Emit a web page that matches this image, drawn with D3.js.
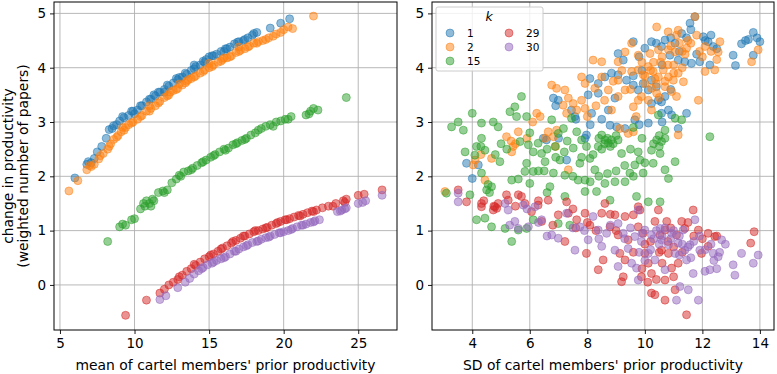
<!DOCTYPE html>
<html>
<head>
<meta charset="utf-8">
<script src="https://cdn.jsdelivr.net/npm/d3@7/dist/d3.min.js"></script>
<style>
  body { margin: 0; background: #fff; }
  text { font-family: "DejaVu Sans", sans-serif; }
</style>
</head>
<body>
<div id="viz"></div>
<script>
// k values and colors
let kValues = ["1", "2", "15", "29", "30"];
let kColors = ["#1f77b4", "#ff7f0e", "#2ca02c", "#d62728", "#9467bd"];
let yTicks = [0, 1, 2, 3, 4, 5];

// left panel: mean of members' prior productivity vs change
let mean1 = [[6.0,1.97],[6.8,2.22],[6.9,2.27],[7.1,2.25],[7.3,2.33],[7.5,2.45],[7.8,2.55],[8.1,2.7],[8.3,2.86],[8.5,2.88],[8.8,2.95],[9.0,3.02],[9.3,3.08],[9.6,3.12],[9.9,3.2],[10.2,3.22],[10.5,3.3],[10.8,3.37],[11.1,3.42],[11.4,3.48],[11.7,3.55],[12.0,3.6],[12.3,3.66],[12.6,3.72],[12.9,3.78],[13.2,3.83],[13.5,3.88],[13.8,3.95],[14.1,4.02],[14.4,4.05],[14.7,4.1],[15.0,4.2],[15.2,4.22],[15.5,4.25],[15.8,4.3],[16.1,4.35],[16.4,4.38],[16.7,4.44],[17.0,4.48],[17.3,4.5],[17.6,4.55],[17.9,4.6],[18.2,4.65],[19.1,4.73],[19.8,4.82],[20.4,4.9],[10.0,3.15],[12.0,3.55],[14.0,3.98],[16.0,4.3],[8.6,2.93],[9.2,3.1],[9.8,3.2],[10.4,3.3],[11.0,3.42],[11.6,3.55],[12.2,3.68],[12.8,3.8],[13.4,3.9],[14.0,4.05],[14.6,4.12],[15.3,4.22],[16.2,4.35],[16.9,4.47],[17.4,4.52],[18.0,4.63],[11.3,3.5],[13.0,3.82],[14.8,4.15]];
let mean2 = [[5.6,1.73],[6.2,1.92],[6.8,2.12],[7.1,2.18],[7.3,2.22],[7.6,2.32],[7.9,2.42],[8.2,2.5],[8.4,2.6],[8.6,2.68],[8.9,2.75],[9.1,2.82],[9.4,2.9],[9.6,2.95],[9.9,3.0],[10.2,3.05],[10.5,3.12],[10.8,3.2],[11.1,3.25],[11.4,3.3],[11.7,3.38],[12.0,3.45],[12.3,3.5],[12.6,3.58],[12.9,3.62],[13.2,3.68],[13.5,3.75],[13.8,3.8],[14.1,3.85],[14.4,3.9],[14.7,3.96],[15.0,4.0],[15.3,4.05],[15.6,4.1],[15.9,4.15],[16.2,4.18],[16.5,4.22],[16.8,4.28],[17.1,4.32],[17.4,4.35],[17.7,4.4],[18.0,4.45],[18.3,4.48],[18.6,4.5],[19.0,4.55],[19.5,4.62],[20.0,4.7],[20.3,4.75],[22.0,4.95],[9.2,2.9],[11.0,3.3],[13.0,3.7],[15.0,4.08],[17.0,4.38],[7.0,2.2],[7.7,2.38],[8.3,2.55],[8.8,2.72],[9.3,2.85],[9.8,2.98],[10.4,3.1],[11.0,3.2],[11.6,3.35],[12.2,3.48],[12.8,3.6],[13.4,3.72],[14.0,3.83],[14.6,3.93],[15.2,4.02],[15.8,4.12],[16.4,4.2],[17.0,4.3],[17.6,4.38],[18.2,4.45],[18.8,4.52],[19.3,4.58],[19.8,4.65],[20.6,4.72],[12.4,3.55],[13.6,3.78],[16.0,4.18]];
let mean15 = [[8.2,0.8],[9.0,1.07],[9.2,1.12],[9.4,1.1],[9.8,1.2],[10.0,1.22],[10.4,1.4],[10.6,1.5],[10.8,1.55],[11.0,1.5],[11.2,1.58],[11.6,1.7],[11.9,1.73],[12.2,1.75],[12.5,1.88],[12.8,1.95],[13.0,2.02],[13.3,2.08],[13.6,2.1],[13.9,2.15],[14.2,2.2],[14.5,2.25],[14.8,2.3],[15.1,2.35],[15.4,2.4],[15.7,2.45],[16.0,2.5],[16.3,2.52],[16.6,2.58],[16.9,2.62],[17.2,2.66],[17.5,2.7],[17.8,2.76],[18.1,2.8],[18.5,2.88],[18.8,2.92],[19.1,2.95],[19.5,3.0],[19.8,3.02],[20.1,3.05],[20.5,3.1],[21.5,3.13],[21.8,3.2],[22.0,3.25],[22.3,3.22],[24.2,3.45],[11.1,1.45],[11.3,1.55],[10.7,1.45],[12.0,1.7],[13.1,2.0],[13.8,2.12],[14.6,2.27],[15.3,2.38],[16.1,2.48],[16.8,2.6],[17.4,2.68],[18.3,2.85],[19.3,2.92],[20.3,3.05],[21.7,3.15]];
let mean29 = [[9.4,-0.56],[10.8,-0.28],[11.7,-0.15],[12.0,-0.08],[12.3,0.0],[12.6,0.05],[12.9,0.1],[13.2,0.18],[13.5,0.25],[13.8,0.3],[14.1,0.36],[14.4,0.42],[14.7,0.48],[15.0,0.52],[15.3,0.57],[15.6,0.62],[15.9,0.68],[16.2,0.72],[16.5,0.77],[16.8,0.82],[17.1,0.86],[17.4,0.9],[17.7,0.94],[18.0,0.98],[18.3,1.0],[18.6,1.03],[18.9,1.06],[19.2,1.1],[19.5,1.13],[19.8,1.17],[20.1,1.2],[20.4,1.22],[20.7,1.25],[21.0,1.28],[21.3,1.3],[21.6,1.33],[21.9,1.36],[22.2,1.38],[22.6,1.42],[23.0,1.45],[23.5,1.5],[24.0,1.55],[24.2,1.58],[25.0,1.65],[25.4,1.67],[26.6,1.75],[13.0,0.15],[14.0,0.38],[15.1,0.55],[15.8,0.66],[16.6,0.8],[17.3,0.9],[18.1,1.0],[18.8,1.05],[19.6,1.15],[20.2,1.2],[21.1,1.27],[22.0,1.35],[23.3,1.45],[24.1,1.52]];
let mean30 = [[11.7,-0.27],[12.1,-0.2],[12.9,-0.05],[13.4,0.05],[13.7,0.12],[14.0,0.2],[14.3,0.26],[14.6,0.32],[14.9,0.37],[15.2,0.4],[15.5,0.45],[15.8,0.48],[16.1,0.52],[16.4,0.57],[16.7,0.62],[17.0,0.66],[17.3,0.7],[17.6,0.74],[17.9,0.78],[18.2,0.8],[18.5,0.84],[18.8,0.87],[19.1,0.9],[19.4,0.93],[19.7,0.96],[20.0,0.98],[20.3,1.0],[20.6,1.04],[20.9,1.07],[21.2,1.1],[21.5,1.12],[21.8,1.15],[22.1,1.18],[22.4,1.2],[23.6,1.35],[23.9,1.38],[24.2,1.42],[25.0,1.5],[25.5,1.55],[26.6,1.65],[14.5,0.3],[15.3,0.42],[16.0,0.5],[16.8,0.62],[17.5,0.72],[18.3,0.81],[19.0,0.88],[19.8,0.96],[20.5,1.02],[21.3,1.1],[22.0,1.16],[23.8,1.36],[24.1,1.4],[25.3,1.52]];

// right panel: SD of members' prior productivity vs change
let sd1 = [[13.77,4.65],[14.0,4.48],[13.36,4.44],[13.07,4.23],[13.15,4.04],[13.77,4.23],[13.6,4.52],[11.57,4.82],[11.74,4.94],[11.28,4.63],[12.03,4.57],[12.2,4.48],[11.62,4.08],[11.39,4.11],[11.91,4.11],[12.26,4.05],[12.38,4.39],[11.05,4.45],[10.87,4.23],[11.16,4.14],[10.23,4.48],[10.0,4.36],[10.58,4.39],[10.7,4.51],[9.07,4.26],[9.25,4.14],[9.6,4.48],[8.84,3.9],[8.61,3.83],[9.07,3.87],[9.36,3.77],[9.6,3.68],[9.77,3.59],[9.94,3.71],[10.23,3.77],[10.12,3.59],[10.47,3.4],[10.58,3.37],[10.7,3.47],[10.82,3.22],[10.93,3.13],[11.45,3.16],[11.16,2.88],[10.58,3.16],[10.23,3.34],[9.65,3.04],[10.12,2.98],[9.31,2.88],[9.02,2.91],[8.79,2.94],[8.73,3.22],[8.96,3.44],[8.38,3.53],[8.03,3.5],[8.38,3.71],[8.09,3.8],[7.45,3.22],[6.99,3.4],[6.82,3.44],[7.57,3.1],[8.15,3.16],[7.97,2.76],[7.92,2.7],[6.58,2.67],[6.47,2.7],[7.28,2.3],[3.8,2.24],[4.21,2.21],[4.0,1.96],[10.4,4.45],[10.9,4.55],[11.2,4.3],[11.45,4.55],[11.8,4.25],[12.1,4.5],[12.5,4.35],[12.3,4.6],[10.6,4.05],[9.9,3.95],[9.6,3.85],[10.4,3.65],[10.9,3.6],[10.6,3.0],[9.8,2.95],[8.5,3.05],[8.1,2.95],[7.0,2.7],[7.6,3.05],[6.9,3.3],[11.6,4.7],[9.8,4.2],[13.5,4.5],[13.9,4.55]];
let sd2 = [[11.74,4.94],[10.41,4.75],[10.81,4.66],[11.16,4.69],[11.8,4.6],[12.61,4.48],[12.55,4.29],[12.09,4.39],[11.45,4.36],[11.05,4.29],[10.82,4.33],[10.47,4.33],[10.18,4.26],[9.77,4.23],[9.54,4.45],[9.31,4.29],[9.07,4.11],[8.5,4.11],[8.2,4.14],[13.71,4.11],[13.94,4.33],[12.43,3.96],[12.09,3.93],[9.77,3.96],[9.94,3.87],[10.12,4.02],[10.29,3.93],[10.47,3.83],[10.64,3.96],[10.82,3.83],[10.99,3.77],[11.16,3.9],[11.34,3.74],[10.0,3.71],[10.23,3.62],[10.41,3.53],[10.7,3.65],[10.93,3.56],[11.1,3.47],[9.88,3.47],[10.12,3.4],[10.23,3.22],[9.77,3.4],[9.6,3.28],[11.86,3.4],[9.31,3.59],[9.07,3.47],[8.84,3.22],[8.73,3.59],[8.26,3.62],[7.92,3.71],[7.8,3.83],[8.5,3.83],[9.07,3.77],[9.54,3.93],[6.76,3.68],[6.93,3.62],[7.22,3.59],[7.34,3.44],[7.51,3.34],[7.16,3.31],[7.63,3.22],[7.28,3.16],[7.92,3.25],[7.8,3.4],[6.24,3.16],[6.36,3.1],[6.64,2.82],[6.93,2.85],[6.82,2.73],[6.53,2.7],[5.6,2.82],[5.19,2.73],[5.37,2.45],[5.42,2.55],[7.34,2.12],[4.67,2.33],[4.03,2.21],[4.44,1.93],[3.05,1.72],[9.42,2.79],[9.13,2.88],[11.16,2.76],[9.6,2.82],[10.55,4.1],[11.3,4.3],[10.35,3.8],[11.0,4.05],[10.3,4.1],[10.6,4.2],[10.9,4.4],[11.2,4.45],[11.5,4.5],[10.4,3.7],[10.7,3.75],[11.0,3.9],[11.3,4.0],[10.0,3.85],[9.9,4.1],[10.2,3.95],[10.8,4.05],[11.4,4.25],[11.1,4.6],[11.6,4.45],[12.3,4.3],[12.0,4.2],[10.5,3.45],[9.5,3.6],[9.2,3.95],[8.9,3.75],[8.6,3.4],[8.0,3.1],[6.1,3.0],[5.9,2.7],[4.3,2.4],[4.1,2.3],[5.5,2.6],[6.9,2.55],[5.35,2.65],[9.7,3.1],[8.3,3.3],[11.9,4.3],[12.5,4.15]];
let sd15 = [[3.1,1.69],[3.28,2.91],[3.51,3.0],[3.69,2.85],[4.0,3.16],[3.92,1.66],[4.15,2.55],[4.32,2.7],[4.32,2.06],[4.09,2.39],[4.44,2.48],[4.5,1.75],[4.67,1.81],[4.67,1.07],[4.15,1.2],[4.44,1.23],[4.32,2.98],[4.9,2.91],[4.96,2.27],[4.73,3.0],[5.14,1.04],[5.37,0.8],[5.37,1.93],[5.31,3.19],[5.48,3.28],[5.71,3.47],[5.54,3.1],[5.66,2.64],[5.95,2.58],[5.89,2.24],[5.89,3.1],[6.12,2.45],[6.12,2.09],[5.83,2.09],[6.0,1.87],[6.41,2.42],[6.29,2.61],[6.53,2.27],[6.7,1.81],[6.82,2.06],[6.76,3.04],[6.99,2.79],[6.88,2.55],[7.05,2.3],[7.17,2.88],[7.22,2.02],[7.45,3.07],[7.51,2.52],[7.63,2.82],[7.68,1.93],[7.74,2.24],[7.8,2.67],[7.92,1.72],[7.92,1.93],[7.97,2.55],[8.09,2.33],[8.26,2.12],[8.32,1.72],[8.38,2.55],[8.5,2.76],[8.61,2.67],[8.73,2.61],[8.84,2.67],[8.61,1.87],[8.79,1.56],[8.96,1.9],[9.07,2.67],[9.19,2.42],[9.31,1.9],[9.48,2.06],[9.65,2.21],[9.71,1.63],[9.77,2.45],[9.83,2.3],[9.94,2.06],[10.12,1.53],[10.23,2.48],[10.29,2.24],[10.41,2.67],[10.53,1.53],[10.53,2.42],[10.58,2.64],[10.7,2.85],[10.7,2.12],[10.82,1.96],[11.05,2.27],[11.28,3.04],[10.47,3.13],[12.26,2.73],[11.05,3.07],[7.22,1.63],[6.99,1.13],[7.39,1.1],[6.12,1.2],[5.89,1.04],[5.6,1.01],[6.5,2.1],[7.3,2.65],[8.2,2.4],[8.6,2.6],[8.4,2.7],[8.7,2.7],[8.9,2.6],[8.5,2.5],[9.0,2.75],[8.8,2.55],[10.3,2.6],[10.5,2.55],[10.7,2.7],[10.5,2.75],[9.6,2.9],[9.9,2.7],[9.5,2.5],[9.3,2.2],[8.1,1.9],[8.4,2.0],[8.7,2.05],[9.6,2.0],[10.0,2.25],[6.0,2.8],[6.6,2.5],[6.9,2.35],[5.2,2.5],[4.8,2.4],[4.3,2.55],[5.0,2.6],[6.3,2.1],[7.5,2.0],[7.8,2.35],[9.0,2.1],[7.2,2.45],[4.6,1.7],[4.55,1.85],[3.75,2.45],[5.6,1.95],[6.6,1.7]];
let sd29 = [[3.51,1.75],[3.8,1.53],[4.32,1.5],[4.32,1.44],[4.79,1.44],[4.85,1.41],[4.73,1.38],[5.19,1.66],[5.25,1.56],[5.6,1.66],[5.71,1.63],[5.83,1.5],[6.06,1.35],[6.29,1.47],[6.64,1.56],[6.41,1.17],[6.99,1.29],[7.28,1.53],[7.34,1.32],[7.22,0.8],[7.63,1.2],[7.92,1.32],[7.97,0.58],[8.09,1.1],[8.38,0.28],[8.5,1.32],[8.61,1.5],[8.55,0.46],[8.79,1.07],[8.96,1.29],[9.07,0.92],[9.13,0.58],[9.25,0.15],[9.19,0.06],[9.31,1.26],[9.6,1.29],[9.77,1.07],[9.83,1.38],[9.94,0.95],[10.0,0.58],[10.12,0.4],[10.23,0.21],[10.23,-0.15],[10.35,-0.18],[10.35,1.17],[10.53,0.92],[10.58,0.64],[10.7,1.01],[10.76,1.17],[10.7,0.09],[10.7,-0.28],[10.93,0.31],[11.05,-0.09],[11.1,0.92],[11.28,1.17],[11.39,1.04],[11.45,-0.55],[11.68,1.38],[11.86,1.01],[11.97,0.58],[12.2,0.71],[12.43,0.89],[13.68,0.77],[13.8,0.98],[9.77,1.44],[9.31,0.46],[9.88,0.15],[10.82,0.58],[11.16,0.4],[10.47,1.38],[9.42,0.83],[10.5,0.6],[10.8,0.8],[11.0,0.7],[10.2,0.8],[10.0,0.75],[9.6,0.6],[9.9,0.3],[10.4,0.1],[10.6,0.4],[11.3,0.6],[11.7,0.9],[12.0,0.85],[12.5,0.9],[11.5,1.15],[10.9,1.05],[8.3,1.0],[8.8,1.3],[7.6,1.05],[8.0,1.15],[9.0,1.0],[6.3,1.55],[5.5,1.45],[4.9,1.5],[4.4,1.55],[4.75,1.45],[6.8,1.1],[7.5,1.4],[12.2,0.95],[11.0,0.15],[10.1,0.05]];
let sd30 = [[3.51,1.69],[3.51,1.53],[5.25,1.38],[5.14,1.5],[5.48,1.17],[5.6,1.04],[5.77,1.47],[5.95,1.07],[6.18,1.44],[6.41,1.2],[6.76,0.92],[6.99,0.86],[7.28,1.32],[7.57,0.64],[7.74,1.07],[8.03,0.83],[8.2,1.26],[8.38,1.01],[8.5,0.71],[8.67,0.95],[8.96,0.64],[9.07,0.34],[9.25,0.95],[9.42,0.67],[9.65,0.89],[9.71,0.31],[9.77,0.09],[9.88,0.8],[10.0,1.01],[10.12,0.58],[10.23,0.92],[10.35,0.46],[10.53,1.04],[10.58,0.83],[10.7,0.28],[10.82,0.74],[10.93,0.95],[11.05,0.58],[11.1,-0.28],[11.16,0.77],[11.22,-0.03],[11.33,1.01],[11.39,0.64],[11.45,0.46],[11.51,-0.09],[11.57,0.74],[11.68,0.21],[11.74,1.2],[11.86,-0.28],[11.91,0.64],[12.09,0.25],[12.26,0.28],[12.38,0.58],[12.55,0.52],[12.67,0.83],[13.07,0.37],[13.13,0.18],[13.36,0.58],[13.77,0.4],[13.94,0.55],[9.77,1.38],[9.54,0.4],[9.07,1.13],[10.2,0.65],[10.5,0.75],[10.6,0.9],[10.9,0.85],[11.0,1.0],[11.2,0.9],[11.3,0.75],[11.5,0.7],[11.7,0.8],[11.9,0.9],[12.1,0.65],[12.3,0.75],[10.4,1.0],[10.7,1.05],[10.3,0.85],[9.9,0.95],[9.5,1.05],[9.3,0.85],[9.8,0.6],[10.0,0.45],[11.2,0.55],[11.6,0.5],[12.5,0.3],[12.6,0.6],[8.8,1.1],[8.4,0.85],[7.9,1.0],[7.5,1.05],[6.3,1.15],[5.9,1.4],[5.3,1.1],[6.6,0.9],[12.8,0.75],[12.4,0.45]];

let w = 777;
let h = 374;
let plotTop = 2, plotBottom = 330;
let tickFont = "13.5px";
let labelFont = "13.9px";

let svg = d3.select("#viz")
  .append("svg")
  .attr("width", w)
  .attr("height", h);

let yScale = d3.scaleLinear().domain([-0.83, 5.21]).range([plotBottom, plotTop]);

function drawPanel(left, right, xDomain, xTicks, seriesList, xLabel) {
  let xScale = d3.scaleLinear().domain(xDomain).range([left, right]);
  let g = svg.append("g");

  // grid
  g.selectAll(".gx").data(xTicks).enter().append("line")
    .attr("x1", d => xScale(d)).attr("x2", d => xScale(d))
    .attr("y1", plotTop).attr("y2", plotBottom)
    .style("stroke", "#b0b0b0").style("stroke-width", 0.9);
  g.selectAll(".gy").data(yTicks).enter().append("line")
    .attr("x1", left).attr("x2", right)
    .attr("y1", d => yScale(d)).attr("y2", d => yScale(d))
    .style("stroke", "#b0b0b0").style("stroke-width", 0.9);

  // points
  seriesList.forEach((pts, i) => {
    g.selectAll(".p" + i).data(pts).enter().append("circle")
      .attr("cx", d => xScale(d[0]))
      .attr("cy", d => yScale(d[1]))
      .attr("r", 4)
      .style("fill", kColors[i])
      .style("fill-opacity", 0.5)
      .style("stroke", kColors[i])
      .style("stroke-opacity", 0.5)
      .style("stroke-width", 1);
  });

  // axes
  let xAxis = d3.axisBottom(xScale).tickValues(xTicks).tickFormat(d3.format("d"))
    .tickSizeOuter(0).tickSize(4).tickPadding(4);
  let ax = svg.append("g").attr("transform", `translate(0,${plotBottom})`).call(xAxis);
  let yAxis = d3.axisLeft(yScale).tickValues(yTicks).tickFormat(d3.format("d"))
    .tickSizeOuter(0).tickSize(4).tickPadding(4);
  let ay = svg.append("g").attr("transform", `translate(${left},0)`).call(yAxis);
  [ax, ay].forEach(a => {
    a.select(".domain").remove();
    a.selectAll("text").style("font-family", "DejaVu Sans").style("font-size", tickFont).style("fill", "#000");
    a.selectAll("line").style("stroke", "#000").style("stroke-width", 0.9);
  });

  // frame
  svg.append("rect")
    .attr("x", left).attr("y", plotTop)
    .attr("width", right - left).attr("height", plotBottom - plotTop)
    .style("fill", "none").style("stroke", "#000").style("stroke-width", 1);

  svg.append("text")
    .attr("x", (left + right) / 2).attr("y", 370)
    .attr("text-anchor", "middle")
    .style("font-size", labelFont)
    .text(xLabel);

  return xScale;
}

drawPanel(54, 397, [4.6, 27.6], [5, 10, 15, 20, 25],
  [mean1, mean2, mean15, mean29, mean30],
  "mean of cartel members' prior productivity");

drawPanel(432, 774, [2.6, 14.49], [4, 6, 8, 10, 12, 14],
  [sd1, sd2, sd15, sd29, sd30],
  "SD of cartel members' prior productivity");

// y label
let yl = svg.append("text")
  .attr("transform", `translate(13,${(plotTop + plotBottom) / 2}) rotate(-90)`)
  .attr("text-anchor", "middle")
  .style("font-size", labelFont);
yl.append("tspan").attr("x", 0).attr("dy", 0).text("change in productivity");
yl.append("tspan").attr("x", 0).attr("dy", 14.5).text("(weighted number of papers)");

// legend
let lg = svg.append("g");
lg.append("rect")
  .attr("x", 436).attr("y", 7).attr("width", 107).attr("height", 64).attr("rx", 2)
  .style("fill", "#fff").style("fill-opacity", 0.8)
  .style("stroke", "#ccc").style("stroke-width", 1);
lg.append("text")
  .attr("x", 489).attr("y", 21)
  .attr("text-anchor", "middle")
  .style("font-size", "12.5px").style("font-style", "italic")
  .text("k");
let legendPos = [[450, 33], [450, 47], [450, 61], [509, 33], [509, 47]];
kValues.forEach((k, i) => {
  lg.append("circle")
    .attr("cx", legendPos[i][0]).attr("cy", legendPos[i][1]).attr("r", 4)
    .style("fill", kColors[i]).style("fill-opacity", 0.5)
    .style("stroke", kColors[i]).style("stroke-opacity", 0.5);
  lg.append("text")
    .attr("x", legendPos[i][0] + 17).attr("y", legendPos[i][1] + 3.5)
    .style("font-size", "10.5px")
    .text(k);
});
</script>
</body>
</html>
